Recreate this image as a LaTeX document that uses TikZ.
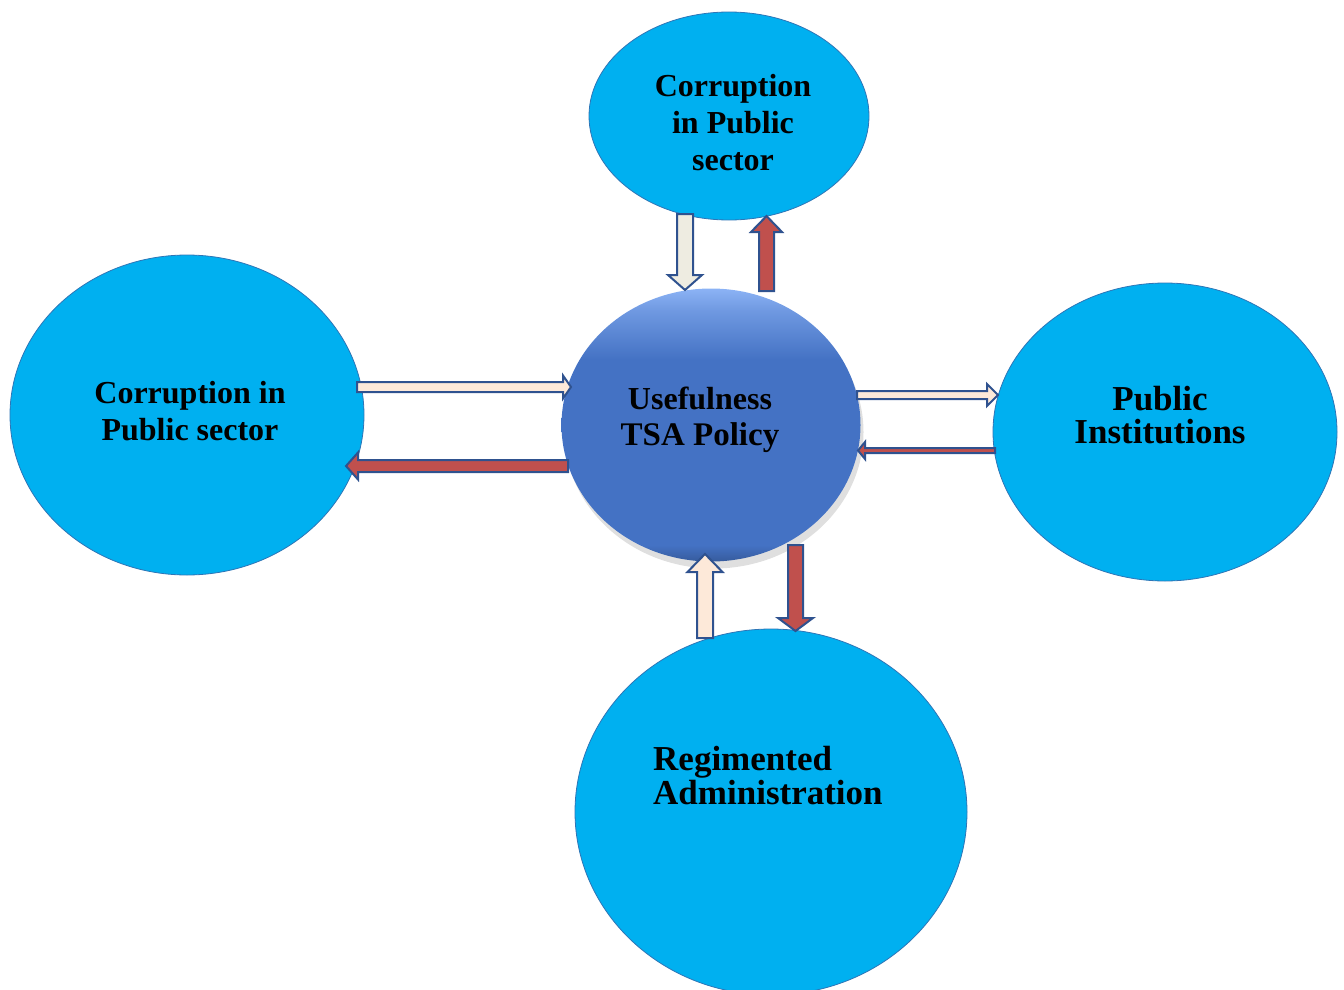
\documentclass[tikz,border=0pt]{standalone}
\usepackage{fontspec}
\setmainfont{Liberation Serif}
\usetikzlibrary{shapes.geometric,calc,shadows}
\definecolor{skyfill}{HTML}{00B0F0}
\definecolor{skyline}{HTML}{2E75B6}
\definecolor{hubblue}{HTML}{4472C4}
\definecolor{hublight}{HTML}{8CB3F5}
\definecolor{arrowline}{HTML}{2F528F}
\definecolor{creamfill}{HTML}{EEECE1}
\definecolor{peachfill}{HTML}{FDE9D9}
\definecolor{redfill}{HTML}{C0504D}
\pgfdeclareverticalshading{hubshade}{100bp}{color(0bp)=(hubblue!80!black); color(25bp)=(hubblue!80!black);
  color(28bp)=(hubblue); color(62bp)=(hubblue); color(71bp)=(hublight!60!hubblue); color(75bp)=(hublight);
  color(100bp)=(hublight)}
% block arrow: [style]{from}{to}{half shaft}{half head}{head length}
\newcommand{\blockarrow}[6][]{%
  \coordinate (ba-h) at ($(#3)!#6!(#2)$);
  \draw[barrow,#1] ($(#2)!#4!90:(#3)$) -- ($(ba-h)!#4!-90:(#2)$) -- ($(ba-h)!#5!-90:(#2)$)
    -- (#3) -- ($(ba-h)!#5!90:(#2)$) -- ($(ba-h)!#4!90:(#2)$) -- ($(#2)!#4!-90:(#3)$) -- cycle;}
\begin{document}
\begin{tikzpicture}[x=1pt,y=-1pt,
	bubble/.style={ellipse,fill=skyfill,draw=skyline,line width=0.8pt,inner sep=0},
	hub/.style={ellipse,inner sep=0,shading=hubshade,
		drop shadow={shadow xshift=3pt,shadow yshift=-7pt,opacity=0.25}},
	lbl/.style={align=center,inner sep=0,font=\bfseries},
	barrow/.style={draw=arrowline,line width=2pt,line join=miter}]
\clip (0,0) rectangle (1344,990);
\node[bubble,minimum width=280pt,minimum height=208pt] (top) at (729,116) {};
\node[bubble,minimum width=354pt,minimum height=320pt] (left) at (187,415) {};
\node[bubble,minimum width=344pt,minimum height=298pt] (right) at (1165,432) {};
\node[bubble,minimum width=392pt,minimum height=366pt] (bottom) at (771,812) {};
\node[hub,minimum width=299pt,minimum height=273pt] (hub) at (711,425) {};

\node[lbl,font=\bfseries\fontsize{32}{37}\selectfont] (toptxt) at (733,123) {Corruption\\in Public\\sector};
\node[lbl,font=\bfseries\fontsize{32}{37}\selectfont] (lefttxt) at (190,411) {Corruption in\\Public sector};
\node[lbl,font=\bfseries\fontsize{35}{33}\selectfont] (righttxt) at (1160,415) {Public\\Institutions};
\node[lbl,align=left,anchor=west,font=\bfseries\fontsize{35}{34}\selectfont] (bottomtxt) at (653,776) {Regimented\\Administration};
\node[lbl,font=\bfseries\fontsize{33}{36}\selectfont] (hubtxt) at (700,420) {{\fontsize{32}{36}\selectfont Usefulness}\\TSA Policy};

\coordinate (tdA) at (685,214); \coordinate (tdB) at (685,290);
\coordinate (tuA) at (766.5,291); \coordinate (tuB) at (766.5,216);
\coordinate (lrA) at (357,387); \coordinate (lrB) at (571,387);
\coordinate (llA) at (568,466); \coordinate (llB) at (346,466);
\coordinate (rrA) at (857,395); \coordinate (rrB) at (998,395);
\coordinate (rlA) at (995,450.5); \coordinate (rlB) at (858,450.5);
\coordinate (buA) at (705,638); \coordinate (buB) at (705,554);
\coordinate (bdA) at (795.5,545); \coordinate (bdB) at (795.5,631);

\blockarrow[fill=creamfill]{tdA}{tdB}{8pt}{17pt}{15pt}
\blockarrow[fill=redfill]{tuA}{tuB}{7.5pt}{15.5pt}{16pt}
\blockarrow[fill=peachfill]{lrA}{lrB}{5pt}{11.5pt}{8pt}
\blockarrow[fill=redfill]{llA}{llB}{6pt}{13.5pt}{12pt}
\blockarrow[fill=peachfill]{rrA}{rrB}{4pt}{11pt}{11pt}
\blockarrow[fill=redfill]{rlA}{rlB}{2.5pt}{8.5pt}{7pt}
\blockarrow[fill=peachfill]{buA}{buB}{8pt}{17.5pt}{18pt}
\blockarrow[fill=redfill]{bdA}{bdB}{7.5pt}{17.5pt}{13pt}
\end{tikzpicture}
\end{document}
